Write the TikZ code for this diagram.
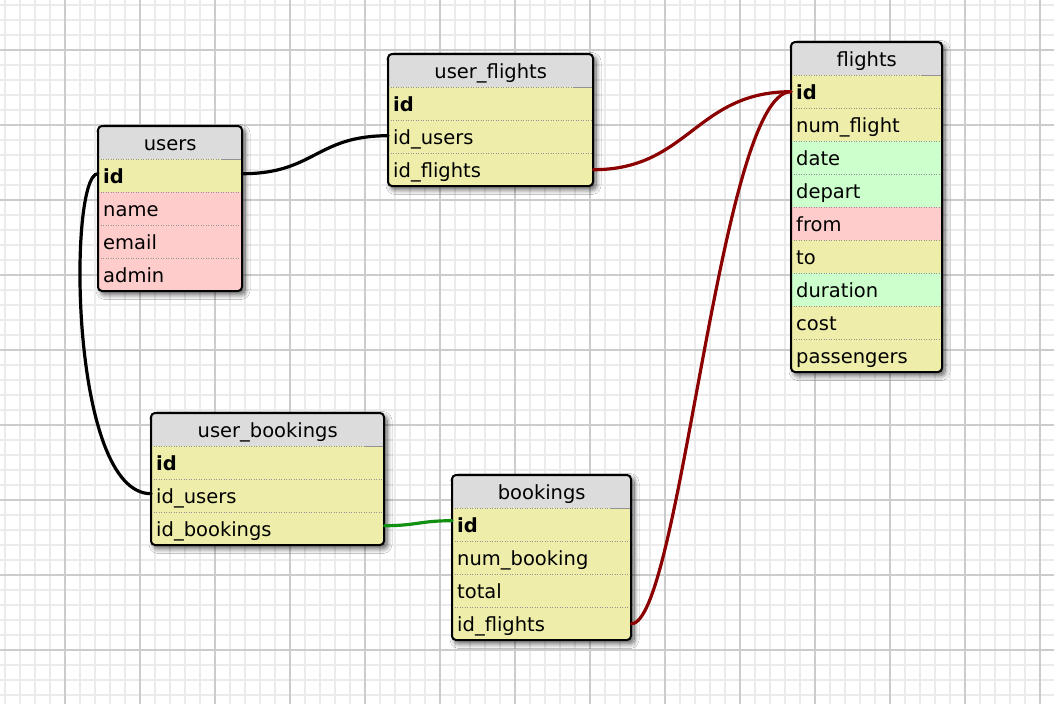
\documentclass[tikz,border=0pt]{standalone}
\usepackage{fontspec}
\setmainfont{DejaVu Sans}
\usetikzlibrary{shadows.blur}
\definecolor{hdr}{HTML}{DCDCDC}
\definecolor{yel}{HTML}{EEEEAA}
\definecolor{pnk}{HTML}{FFCCCC}
\definecolor{grn}{HTML}{CCFFCC}
\definecolor{minorgrid}{HTML}{EBEBEB}
\definecolor{majorgrid}{HTML}{CCCCCC}
\definecolor{linkred}{HTML}{8B0000}
\definecolor{linkgreen}{HTML}{119011}
\tikzset{
  minorline/.style={draw=minorgrid, line width=1.4pt},
  majorline/.style={draw=majorgrid, line width=1.6pt},
  tblshadow/.style={rounded corners=4pt, blur shadow={shadow xshift=3pt, shadow yshift=-3.5pt, shadow blur radius=5pt, shadow blur steps=8, shadow opacity=65}},
  hdrbox/.style={fill=hdr, minimum height=33pt, inner sep=0pt, text height=17pt, text depth=2pt, font=\fontsize{19.5}{22}\selectfont},
  rowbox/.style={minimum height=33pt, inner xsep=5pt, inner ysep=0pt, text height=17pt, text depth=2pt, align=left, font=\fontsize{19.5}{22}\selectfont},
  sepline/.style={draw=gray!85, line width=0.8pt, dash pattern=on 1pt off 1.5pt},
  hsepsolid/.style={draw=gray!85, line width=0.9pt},
  frame/.style={draw=black, line width=2pt, rounded corners=4pt},
  link/.style={line width=3.2pt, line cap=round},
}
\newcommand\erdtable[7]{%
  \pgfmathsetmacro\tbh{33*(#5+1)}%
  \pgfmathsetmacro\tww{#4-10}%
  \path[tblshadow] (#2,#3) rectangle ++(#4,\tbh);
  \begin{scope}
    \clip[rounded corners=4pt] (#2,#3) rectangle ++(#4,\tbh);
    \node[hdrbox, minimum width=#4, anchor=north west] (#1) at (#2,#3) {#6};
    \foreach \f/\c [count=\i] in {#7} {
      \node[rowbox, fill=\c, text width=\tww pt, anchor=north west] (#1-\i) at (#2,#3+33*\i) {\f};
    }
  \end{scope}
  \foreach \i in {1,...,#5} {\draw[sepline] (#1-\i.north west) -- (#1-\i.north east);}
  \draw[hsepsolid] (#1-1.north east) -- ++(-20,0);
  \draw[frame] (#2,#3) rectangle ++(#4,\tbh);
}
\begin{document}
\begin{tikzpicture}[x=1pt, y=-1pt]
\useasboundingbox (0,0) rectangle (1054,704);
\fill[white] (0,0) rectangle (1054,704);
% grid
\foreach \x in {5,20,...,1054} {\draw[minorline] (\x,0) -- (\x,704);}
\foreach \y in {5,20,...,704} {\draw[minorline] (0,\y) -- (1054,\y);}
\foreach \x in {65,140,...,1054} {\draw[majorline] (\x,0) -- (\x,704);}
\foreach \y in {50,125,...,704} {\draw[majorline] (0,\y) -- (1054,\y);}
% tables
\erdtable{users}{98}{126}{144}{4}{users}{\textbf{id}/yel, name/pnk, email/pnk, admin/pnk}
\erdtable{uf}{388}{54}{205}{3}{user\_flights}{\textbf{id}/yel, id\_users/yel, id\_flights/yel}
\erdtable{flights}{791}{42}{151}{9}{flights}{\textbf{id}/yel, num\_flight/yel, date/grn, depart/grn, from/pnk, to/yel, duration/grn, cost/yel, passengers/yel}
\erdtable{ub}{151}{413}{233}{3}{user\_bookings}{\textbf{id}/yel, id\_users/yel, id\_bookings/yel}
\erdtable{bk}{452}{475}{179}{4}{bookings}{\textbf{id}/yel, num\_booking/yel, total/yel, id\_flights/yel}
% connectors
\draw[link, black] ([yshift=2pt]users-1.east) .. controls +(72,0) and +(-72,0) .. ([yshift=1pt]uf-2.west);
\draw[link, black] ([yshift=2pt]users-1.west) .. controls +(-30,0) and +(-82,0) .. ([yshift=2pt]ub-2.west);
\draw[link, linkred] (uf-3.east) .. controls +(95,0) and +(-95,0) .. (flights-1.west);
\draw[link, linkred] (bk-4.east) .. controls +(49,0) and +(-71,0) .. (flights-1.west);
\draw[link, linkgreen] ([yshift=3pt]ub-3.east) .. controls +(32,0) and +(-32,0) .. ([yshift=4pt]bk-1.west);
\end{tikzpicture}
\end{document}
